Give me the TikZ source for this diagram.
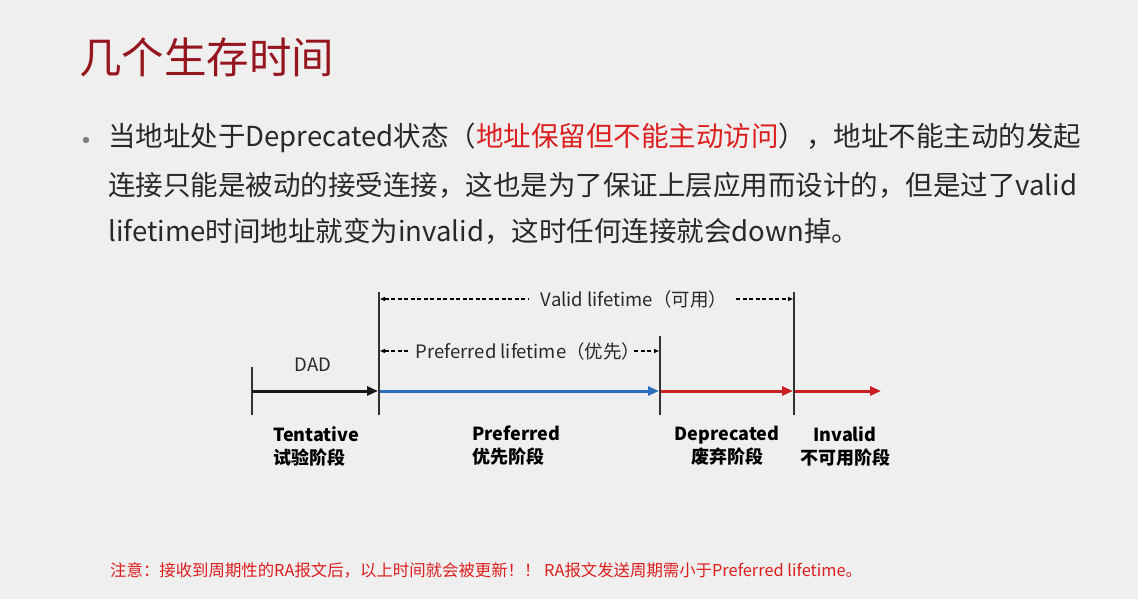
\documentclass[tikz,border=0pt]{standalone}
\usepackage{fontspec}
\setmainfont{Noto Sans CJK SC}
\usetikzlibrary{arrows.meta}
\definecolor{bg}{RGB}{239,239,239}
\definecolor{titlered}{RGB}{150,22,32}
\definecolor{txt}{RGB}{40,40,40}
\definecolor{hired}{RGB}{220,30,30}
\definecolor{axblue}{RGB}{45,110,190}
\definecolor{axred}{RGB}{205,30,35}
\definecolor{tick}{RGB}{50,50,50}
\tikzset{
  body/.style={anchor=base west, inner sep=0pt, text=txt, font=\fontsize{27.5}{30}\selectfont},
  lab/.style={anchor=north, inner sep=0pt, text=black, font=\bfseries\fontsize{18}{23}\selectfont},
  dim/.style={inner sep=0pt, text=txt, font=\fontsize{18.5}{22}\selectfont},
  tickline/.style={draw=tick, line width=1.5pt},
  axis/.style={line width=3pt, -{Triangle[length=11pt,width=9pt]}},
  dimline/.style={draw=black, line width=1.2pt, dash pattern=on 4pt off 2.5pt}
}
\begin{document}
\begin{tikzpicture}[x=1pt,y=-1pt]
\fill[bg] (0,0) rectangle (1138,599);
\useasboundingbox (0,0) rectangle (1138,599);

% title
\node[anchor=base west, inner sep=0pt, text=titlered, font=\fontsize{42.5}{46}\selectfont] (title) at (79,74) {几个生存时间};

% bullet text
\fill[gray] (86,140) circle (3.2pt);
\node[body] (l1) at (108,147) {当地址处于Deprecated状态（\textcolor{hired}{地址保留但不能主动访问}），地址不能主动的发起};
\node[body] (l2) at (108,195) {连接只能是被动的接受连接，这也是为了保证上层应用而设计的，但是过了valid};
\node[body] (l3) at (108,241) {lifetime时间地址就变为invalid，这时任何连接就会down掉。};

% ticks
\coordinate (a0) at (252,391);
\coordinate (a1) at (379,391);
\coordinate (a2) at (660,391);
\coordinate (a3) at (794,391);
\coordinate (a4) at (881,391);
\draw[tickline] (252,367) -- (252,415);
\draw[tickline] (379,292) -- (379,415);
\draw[tickline] (660,336) -- (660,415);
\draw[tickline] (794,292) -- (794,415);

% axis
\draw[axis, draw=black!90] (a0) -- ([xshift=-1pt]a1);
\draw[axis, draw=axblue] ([xshift=1pt]a1) -- ([xshift=-1pt]a2);
\draw[axis, draw=axred] ([xshift=1pt]a2) -- ([xshift=-1pt]a3);
\draw[axis, draw=axred] ([xshift=1pt]a3) -- (a4);

% DAD
\node[dim, anchor=base] (dad) at (313,371) {DAD};

% valid lifetime
\coordinate (vL) at (380,299);
\coordinate (vR) at (793,299);
\node[dim, anchor=base] (vl) at (634,306) {Valid lifetime（可用）};
\draw[dimline, {Triangle[length=5pt,width=4pt]}-] (vL) -- (529,299) coordinate (vl1);
\draw[dimline, -{Triangle[length=5pt,width=4pt]}] (736,299) coordinate (vl2) -- (vR);

% preferred lifetime
\coordinate (pL) at (380,351);
\coordinate (pR) at (659,351);
\node[dim, anchor=base] (pl) at (528,358) {Preferred lifetime（优先）};
\draw[dimline, {Triangle[length=5pt,width=4pt]}-] (pL) -- (409,351);
\draw[dimline, -{Triangle[length=5pt,width=4pt]}] (634,351) -- (pR);

% stage labels
\node[lab, align=left, anchor=north west] (s1) at (273,426) {Tentative\\试验阶段};
\node[lab, align=left, anchor=north west] (s2) at (472,426) {Preferred\\优先阶段};
\node[lab, align=center] (s3) at (727,426) {Deprecated\\废弃阶段};
\node[lab, align=center] (s4) at (845,426) {Invalid\\不可用阶段};

% footnote
\node[anchor=base west, inner sep=0pt, text=hired, font=\fontsize{16.4}{18}\selectfont] (note) at (110,576) {注意：接收到周期性的RA报文后，以上时间就会被更新！！ RA报文发送周期需小于Preferred lifetime。};
\end{tikzpicture}
\end{document}
